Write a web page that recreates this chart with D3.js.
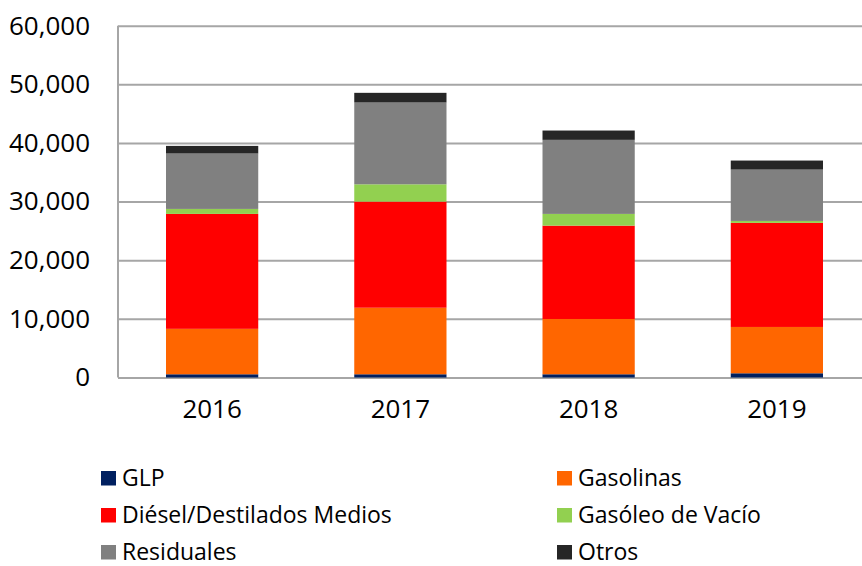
<!DOCTYPE html>
<html>
<head>
<meta charset="utf-8">
<script src="https://cdn.jsdelivr.net/npm/d3@7"></script>
<style>
  body { margin: 0; background: #fff; }
  text { font-family: "Open Sans", sans-serif; fill: #000; }
</style>
</head>
<body>
<div id="chart"></div>
<script>
const years = ["2016", "2017", "2018", "2019"];
const seriesNames = ["GLP", "Gasolinas", "Diésel/Destilados Medios", "Gasóleo de Vacío", "Residuales", "Otros"];
const seriesColors = ["#002060", "#FF6600", "#FF0000", "#92D050", "#808080", "#262626"];
const glp = [550, 550, 550, 720];
const gasolinas = [7750, 11350, 9430, 7900];
const diesel = [19600, 18100, 15920, 17750];
const gasoleo = [850, 2950, 2000, 330];
const residuales = [9450, 13950, 12630, 8760];
const otros = [1300, 1650, 1590, 1540];
const yTicks = [0, 10000, 20000, 30000, 40000, 50000, 60000];

const width = 862, height = 566;
const marginLeft = 118, plotRight = 871, plotTop = 25.7, plotBottom = 377.5;

const data = years.map((yr, i) => ({
  year: yr,
  GLP: glp[i],
  Gasolinas: gasolinas[i],
  "Diésel/Destilados Medios": diesel[i],
  "Gasóleo de Vacío": gasoleo[i],
  Residuales: residuales[i],
  Otros: otros[i]
}));

const stack = d3.stack().keys(seriesNames);
const layers = stack(data);

const x = d3.scaleBand()
  .domain(years)
  .range([marginLeft, plotRight])
  .paddingInner(0.51)
  .paddingOuter(0.255);

const y = d3.scaleLinear()
  .domain([0, 60000])
  .range([plotBottom, plotTop]);

const color = d3.scaleOrdinal(seriesNames, seriesColors);

const svg = d3.select("#chart")
  .append("svg")
  .attr("width", width)
  .attr("height", height)
  .attr("viewBox", [0, 0, width, height]);

// gridlines + y labels
const yAxis = d3.axisLeft(y)
  .tickValues(yTicks)
  .tickFormat(d3.format(","))
  .tickSize(0)
  .tickPadding(28);

svg.append("g")
  .attr("transform", `translate(${marginLeft},0)`)
  .call(yAxis)
  .call(g => g.select(".domain").remove())
  .call(g => g.selectAll(".tick text")
    .attr("font-size", 26)
    .attr("dy", "0.32em")
    .attr("font-family", "'Open Sans', sans-serif"))
  .call(g => g.selectAll(".tick line")
    .attr("x2", plotRight - marginLeft)
    .attr("stroke", "#a6a6a6")
    .attr("stroke-width", 2));

svg.append("line")
  .attr("x1", marginLeft).attr("x2", marginLeft)
  .attr("y1", plotTop).attr("y2", plotBottom)
  .attr("stroke", "#a6a6a6")
  .attr("stroke-width", 2);

// bars
svg.append("g")
  .selectAll("g")
  .data(layers)
  .join("g")
  .attr("fill", d => color(d.key))
  .selectAll("rect")
  .data(d => d)
  .join("rect")
  .attr("x", d => x(d.data.year))
  .attr("width", x.bandwidth())
  .attr("y", d => y(d[1]))
  .attr("height", d => y(d[0]) - y(d[1]));

// x labels
const xAxis = d3.axisBottom(x).tickSize(0).tickPadding(22);
svg.append("g")
  .attr("transform", `translate(0,${plotBottom})`)
  .call(xAxis)
  .call(g => g.select(".domain").remove())
  .call(g => g.selectAll(".tick text")
    .attr("font-size", 26)
    .attr("font-family", "'Open Sans', sans-serif"));

// legend
const legendCols = [101, 557];
const legendRows = [485.5, 522.5, 559.5];
const legend = svg.append("g")
  .selectAll("g")
  .data(seriesNames)
  .join("g")
  .attr("transform", (d, i) => `translate(${legendCols[i % 2]},${legendRows[Math.floor(i / 2)]})`);

legend.append("rect")
  .attr("x", 0)
  .attr("y", -14.5)
  .attr("width", 15)
  .attr("height", 14.5)
  .attr("fill", d => color(d));

legend.append("text")
  .attr("x", 21)
  .attr("y", 0)
  .attr("font-size", 23)
  .text(d => d);
</script>
</body>
</html>
